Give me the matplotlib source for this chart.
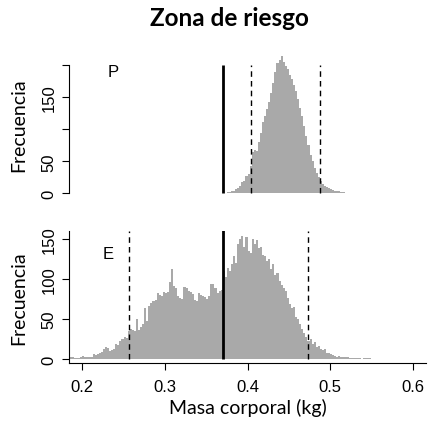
import matplotlib.pyplot as plt
import numpy as np

# --- data ---
bin_w = 0.0025

# panel P: counts from 0.370 on
p_start = 0.370
p_counts = [1, 1, 2, 2, 3, 4, 6, 9, 12, 17, 20, 27, 30, 43, 64, 68,
            66, 80, 95, 111, 121, 132, 142, 157, 173, 190, 204, 209,
            215, 205, 199, 194, 185, 178, 170, 160, 147, 134, 121, 105,
            90, 75, 60, 50, 40, 31, 26, 20, 15, 12, 10, 8, 6, 5, 4, 3,
            3, 2, 2, 1, 1, 1, 1, 1, 1, 1, 1]
p_solid = 0.3705
p_dashed = [0.4048, 0.4874]

# panel E: counts from 0.185 on
e_start = 0.185
e_counts = [3, 2, 1, 1, 1, 2, 4, 3, 2, 2, 3, 6, 5, 6, 8, 9,
            13, 15, 14, 10, 11, 12, 19, 18, 22, 25, 27, 26, 35, 37, 36, 35,
            50, 36, 40, 44, 64, 48, 66, 70, 72, 74, 82, 80, 78, 83, 82, 84,
            96, 112, 91, 88, 78, 76, 75, 90, 88, 85, 83, 81, 74, 72, 82, 80,
            79, 77, 75, 78, 93, 94, 88, 82, 85, 86, 110, 102, 114, 110, 118, 128,
            120, 144, 150, 154, 140, 152, 135, 132, 150, 143, 148, 138,
            140, 130, 128, 122, 125, 112, 118, 105, 107, 97, 92, 88,
            85, 76, 68, 63, 65, 52, 50, 44, 38, 32, 28, 22, 25, 19, 21, 15,
            16, 13, 11, 12, 8, 7, 6, 5, 4, 3, 4, 2, 3, 2, 2, 1,
            1, 1, 1, 1, 1, 0, 1, 1, 1, 1]
e_solid = 0.370
e_dashed = [0.256, 0.473]

x_ticks = [0.2, 0.3, 0.4, 0.5, 0.6]
p_yticks = [0, 50, 100, 150, 200]
p_ylabels = ["0", "50", "", "150", ""]
e_yticks = [0, 50, 100, 150]

bar_col = "#A9A9A9"
tick_font = "Liberation Sans"
label_font = "Lato"

fig = plt.figure(figsize=(4.33, 4.27), dpi=100)
ax1 = fig.add_axes([0.1594, 0.533, 0.8245, 0.349])
ax2 = fig.add_axes([0.1594, 0.1468, 0.8245, 0.3105])


def draw_hist(ax, start, counts):
    edges = start + bin_w * np.arange(len(counts) + 1)
    ax.stairs(counts, edges, fill=True, color=bar_col, linewidth=0)


# --- top panel (P) ---
draw_hist(ax1, p_start, p_counts)
ax1.vlines(p_solid, 0, 200, color="black", lw=2)
ax1.vlines(p_dashed, 0, 200, color="black", lw=1, linestyles=(0, (4, 3)))
ax1.set_xlim(0.184, 0.616)
ax1.set_ylim(-8, 225)
for s in ["top", "right", "bottom"]:
    ax1.spines[s].set_visible(False)
ax1.spines["left"].set_bounds(0, 200)
ax1.set_xticks([])
ax1.set_yticks(p_yticks)
ax1.set_yticklabels(p_ylabels)
ax1.text(0.238, 190, "P", fontsize=12, family=tick_font, ha="center", va="center")
ax1.set_ylabel("Frecuencia", fontsize=14, family=label_font, labelpad=10)

# --- bottom panel (E) ---
draw_hist(ax2, e_start, e_counts)
ax2.vlines(e_solid, 0, 161, color="black", lw=2)
ax2.vlines(e_dashed, 0, 160, color="black", lw=1, linestyles=(0, (4, 3)))
ax2.set_xlim(0.184, 0.616)
ax2.set_ylim(-5.4, 160)
for s in ["top", "right"]:
    ax2.spines[s].set_visible(False)
ax2.set_xticks(x_ticks)
ax2.set_xticklabels([str(v) for v in x_ticks])
ax2.set_yticks(e_yticks)
ax2.text(0.231, 131, "E", fontsize=12, family=tick_font, ha="center", va="center")
ax2.set_ylabel("Frecuencia", fontsize=14, family=label_font, labelpad=10)
ax2.set_xlabel("Masa corporal (kg)", fontsize=14, family=label_font, labelpad=3)

for ax in (ax1, ax2):
    ax.tick_params(length=5, width=0.8, pad=6, labelsize=12)
    ax.tick_params(axis="y", labelrotation=90, pad=4)
    for lab in ax.get_xticklabels() + ax.get_yticklabels():
        lab.set_family(tick_font)
    for lab in ax.get_yticklabels():
        lab.set_va("center")
    for s in ax.spines.values():
        s.set_linewidth(0.8)

fig.text(229 / 433, 1 - 18 / 427, "Zona de riesgo", ha="center", va="center",
         fontsize=17.5, fontweight="bold", family=label_font)

fig.savefig("out.png", dpi=100)
